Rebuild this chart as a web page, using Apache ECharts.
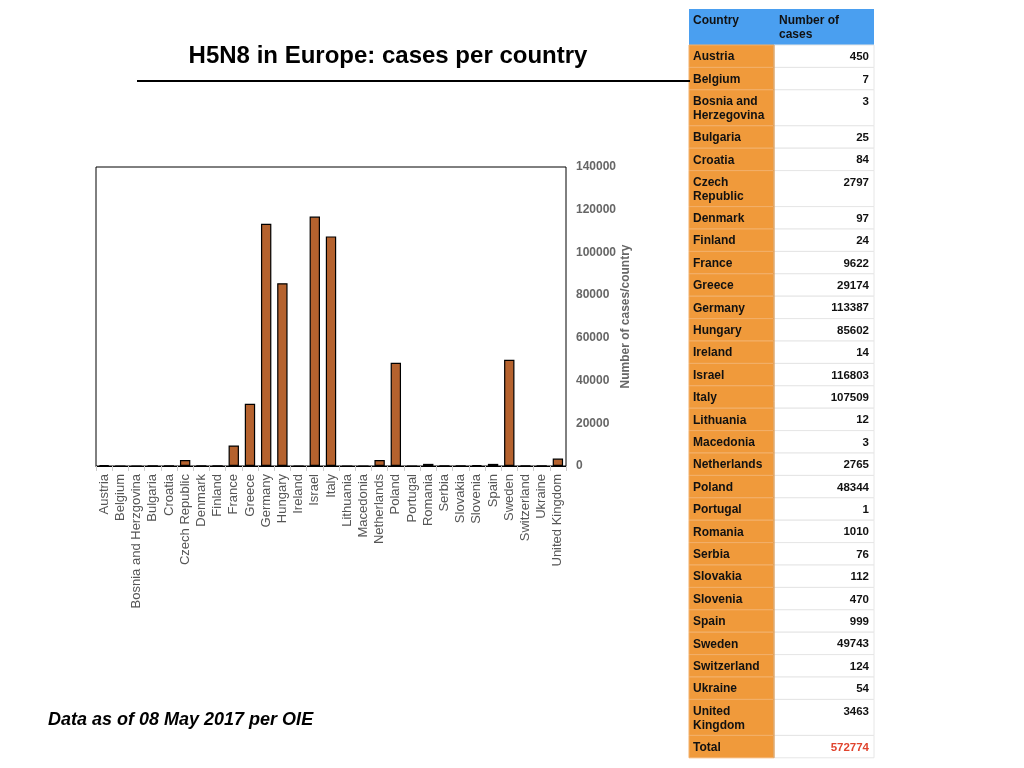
<!DOCTYPE html>
<html><head><meta charset="utf-8">
<script src="https://cdn.jsdelivr.net/npm/echarts@6/dist/echarts.min.js"></script>
<style>html,body{margin:0;padding:0;background:#fff}#c{width:1024px;height:768px}</style>
</head><body><div id="c"></div>
<script>
var categories = ["Austria","Belgium","Bosnia and Herzgovina","Bulgaria","Croatia","Czech Republic","Denmark","Finland","France","Greece","Germany","Hungary","Ireland","Israel","Italy","Lithuania","Macedonia","Netherlands","Poland","Portugal","Romania","Serbia","Slovakia","Slovenia","Spain","Sweden","Switzerland","Ukraine","United Kingdom"];
var cases = [450,7,3,25,84,2797,97,24,9622,29174,113387,85602,14,116803,107509,12,3,2765,48344,1,1010,76,112,470,999,49743,124,54,3463];
var tableCountries = ["Austria","Belgium","Bosnia and\nHerzegovina","Bulgaria","Croatia","Czech\nRepublic","Denmark","Finland","France","Greece","Germany","Hungary","Ireland","Israel","Italy","Lithuania","Macedonia","Netherlands","Poland","Portugal","Romania","Serbia","Slovakia","Slovenia","Spain","Sweden","Switzerland","Ukraine","United\nKingdom"];
var totalCases = 572774;
var yTicks = [0,20000,40000,60000,80000,100000,120000,140000];

var chart = echarts.init(document.getElementById('c'));
var FONT = '"Liberation Sans", Arial, sans-serif';

var g = [];
var tx0 = 689, tx1 = 774, tx2 = 874;
var y = 9;
g.push({type:'rect', shape:{x:tx0,y:y,width:tx2-tx0,height:36}, style:{fill:'#4a9ff0'}, silent:true});
g.push({type:'text', x:tx0+4, y:y+6, style:{text:'Country', font:'bold 12px '+FONT, fill:'#111'}});
g.push({type:'text', x:tx1+5, y:y+5, style:{text:'Number of\ncases', font:'bold 12px '+FONT, fill:'#111', lineHeight:14}});
y += 36;
function addRow(name, val, valColor){
  var two = name.indexOf('\n') >= 0;
  var h = two ? 36 : 22.4;
  g.push({type:'rect', shape:{x:tx0,y:y,width:tx1-tx0,height:h}, style:{fill:'#f09a3b', stroke:'#f3b06a', lineWidth:1}, silent:true});
  g.push({type:'rect', shape:{x:tx1,y:y,width:tx2-tx1,height:h}, style:{fill:'#ffffff', stroke:'#e6e6e6', lineWidth:1}, silent:true});
  g.push({type:'text', x:tx0+4, y:y+5, style:{text:name, font:'bold 12px '+FONT, fill:'#111', lineHeight:14}});
  g.push({type:'text', x:tx2-5, y:y+6, style:{text:String(val), font:'bold 11.5px '+FONT, fill:valColor, align:'right'}});
  y += h;
}
for (var i=0;i<tableCountries.length;i++) addRow(tableCountries[i], cases[i], '#111');
addRow('Total', totalCases, '#e0442e');
g.push({type:'line', shape:{x1:tx1,y1:45,x2:tx1,y2:y}, style:{stroke:'#d98a35', lineWidth:1}, silent:true});

g.push({type:'text', x:388, y:56, style:{text:'H5N8 in Europe: cases per country', font:'bold 24px '+FONT, fill:'#000', align:'center', verticalAlign:'middle'}});
g.push({type:'line', shape:{x1:137,y1:81,x2:690,y2:81}, style:{stroke:'#000', lineWidth:2}, silent:true});
g.push({type:'text', x:48, y:720, style:{text:'Data as of 08 May 2017 per OIE', font:'italic bold 18px '+FONT, fill:'#000', verticalAlign:'middle'}});

chart.setOption({
  animation:false,
  grid:{left:96, right:458, top:167, bottom:302, show:true, borderColor:'#000', borderWidth:1},
  xAxis:{type:'category', data:categories,
    axisLine:{lineStyle:{color:'#000', width:1}},
    axisTick:{show:true, length:5, lineStyle:{color:'#ccc'}},
    axisLabel:{rotate:90, interval:0, color:'#555', fontSize:13, fontFamily:FONT, margin:8}},
  yAxis:{type:'value', position:'right', min:yTicks[0], max:yTicks[yTicks.length-1], interval:yTicks[1]-yTicks[0],
    name:'Number of cases/country', nameLocation:'middle', nameGap:52, nameRotate:90,
    nameTextStyle:{color:'#666', fontSize:12, fontWeight:'bold', fontFamily:FONT},
    axisLine:{show:false}, axisTick:{show:false}, splitLine:{show:false},
    axisLabel:{color:'#666', fontSize:12, fontWeight:'bold', fontFamily:FONT, margin:10, align:'left',
      formatter:function(v){return String(v);}}},
  series:[{type:'bar', data:cases, barWidth:'64%',
    itemStyle:{color:'#b5622e', borderColor:'#000', borderWidth:1.2}}],
  graphic:g
});
</script></body></html>
